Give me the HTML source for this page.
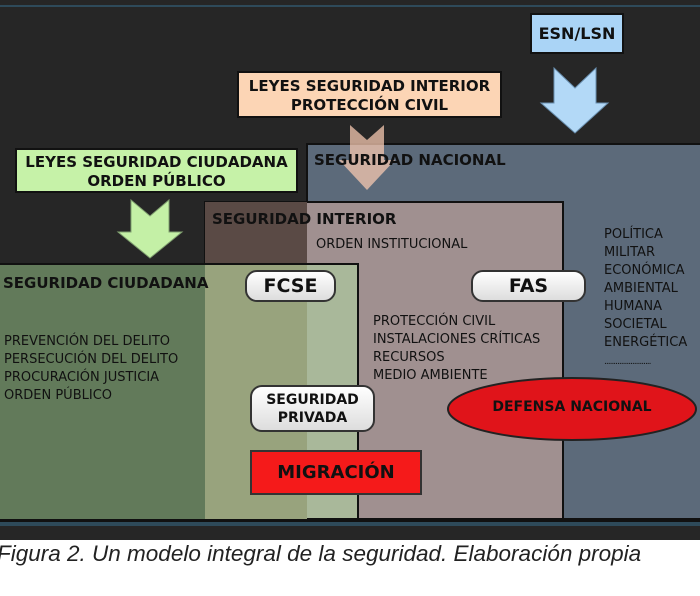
<!DOCTYPE html>
<html><head><meta charset="utf-8"><style>
body{margin:0;width:700px;height:596px;background:#fff;position:relative;overflow:hidden;font-family:"DejaVu Sans",sans-serif}
.a{position:absolute;box-sizing:border-box}
.t{font-family:"DejaVu Sans",sans-serif;font-weight:bold;color:#111;white-space:nowrap}
.n{font-family:"DejaVu Sans",sans-serif;color:#111;font-size:13px;line-height:18px;white-space:nowrap}
.pill{background:linear-gradient(#fff,#ddd);border:2px solid #333;border-radius:12px;text-align:center;display:flex;align-items:center;justify-content:center}
</style></head><body>
<div class="a" style="left:0;top:0;width:700px;height:540px;background:#262626"></div>
<div class="a" style="left:0;top:5px;width:700px;height:2px;background:#2e4a5a"></div>
<svg class="a" style="left:0;top:0" width="700" height="540">
<rect x="307" y="144" width="400" height="375" fill="#5c6a7a" stroke="#111" stroke-width="2"/>
<rect x="205" y="202" width="358" height="317" fill="#a09090" stroke="#111" stroke-width="2"/>
<rect x="205" y="202" width="102" height="317" fill="#5a4a45"/>
<rect x="0" y="264" width="358" height="255" fill="#a9b89a" stroke="#111" stroke-width="2"/>
<rect x="0" y="265" width="205" height="254" fill="#627a5a"/>
<rect x="205" y="265" width="102" height="254" fill="#98a37d"/>
<rect x="0" y="519" width="700" height="3" fill="#111"/>
<rect x="0" y="522" width="700" height="4" fill="#2e4a5a"/>
<polygon points="554,68 575,88 596,68 596,103 608,103 575,133 541,103 554,103" fill="#b3d9f7" stroke="#6a90b0"/>
<polygon points="350,125 367,140 384,125 384,160 395,160 367,190 339,160 350,160" fill="#f5c8b0" opacity="0.75"/>
<polygon points="131,200 150,216 169,200 169,232 182,232 150,258 118,232 131,232" fill="#c4f0a6" stroke="#80a070"/>
<ellipse cx="572" cy="409" rx="124" ry="31" fill="#e0141a" stroke="#222" stroke-width="2"/>
</svg>
<div class="a t" style="left:530px;top:13px;width:94px;height:41px;background:#aad4f6;border:2px solid #111;font-size:16px;display:flex;align-items:center;justify-content:center">ESN/LSN</div>
<div class="a t" style="left:237px;top:71px;width:265px;height:47px;background:#fcd5b5;border:2px solid #111;font-size:15px;line-height:19px;text-align:center;padding-top:4px">LEYES SEGURIDAD INTERIOR<br>PROTECCIÓN CIVIL</div>
<div class="a t" style="left:15px;top:148px;width:283px;height:45px;background:#c6f2a8;border:2px solid #111;font-size:15px;line-height:19px;text-align:center;padding-top:3px">LEYES SEGURIDAD CIUDADANA<br>ORDEN PÚBLICO</div>
<div class="a t" style="left:314px;top:151px;font-size:15px">SEGURIDAD NACIONAL</div>
<div class="a t" style="left:212px;top:210px;font-size:15px">SEGURIDAD INTERIOR</div>
<div class="a n" style="left:316px;top:236px">ORDEN INSTITUCIONAL</div>
<div class="a t" style="left:3px;top:274px;font-size:15px">SEGURIDAD CIUDADANA</div>
<div class="a n" style="left:4px;top:333px">PREVENCIÓN DEL DELITO<br>PERSECUCIÓN DEL DELITO<br>PROCURACIÓN JUSTICIA<br>ORDEN PÚBLICO</div>
<div class="a n" style="left:373px;top:313px">PROTECCIÓN CIVIL<br>INSTALACIONES CRÍTICAS<br>RECURSOS<br>MEDIO AMBIENTE</div>
<div class="a n" style="left:604px;top:226px">POLÍTICA<br>MILITAR<br>ECONÓMICA<br>AMBIENTAL<br>HUMANA<br>SOCIETAL<br>ENERGÉTICA<br><span style="font-size:9px;letter-spacing:-1px">.........................</span></div>
<div class="a t pill" style="left:245px;top:270px;width:91px;height:32px;font-size:19px">FCSE</div>
<div class="a t pill" style="left:471px;top:270px;width:115px;height:32px;font-size:19px">FAS</div>
<div class="a t pill" style="left:250px;top:385px;width:125px;height:47px;font-size:14px;line-height:18px">SEGURIDAD<br>PRIVADA</div>
<div class="a t" style="left:250px;top:450px;width:172px;height:45px;background:#f51a1a;border:2px solid #333;font-size:18px;display:flex;align-items:center;justify-content:center">MIGRACIÓN</div>
<div class="a t" style="left:448px;top:399px;width:248px;text-align:center;font-size:14px">DEFENSA NACIONAL</div>
<div class="a" style="left:-3px;top:541px;font-family:'Liberation Sans',sans-serif;font-style:italic;font-size:22.5px;color:#222;white-space:nowrap">Figura 2. Un modelo integral de la seguridad. Elaboración propia</div>
</body></html>
